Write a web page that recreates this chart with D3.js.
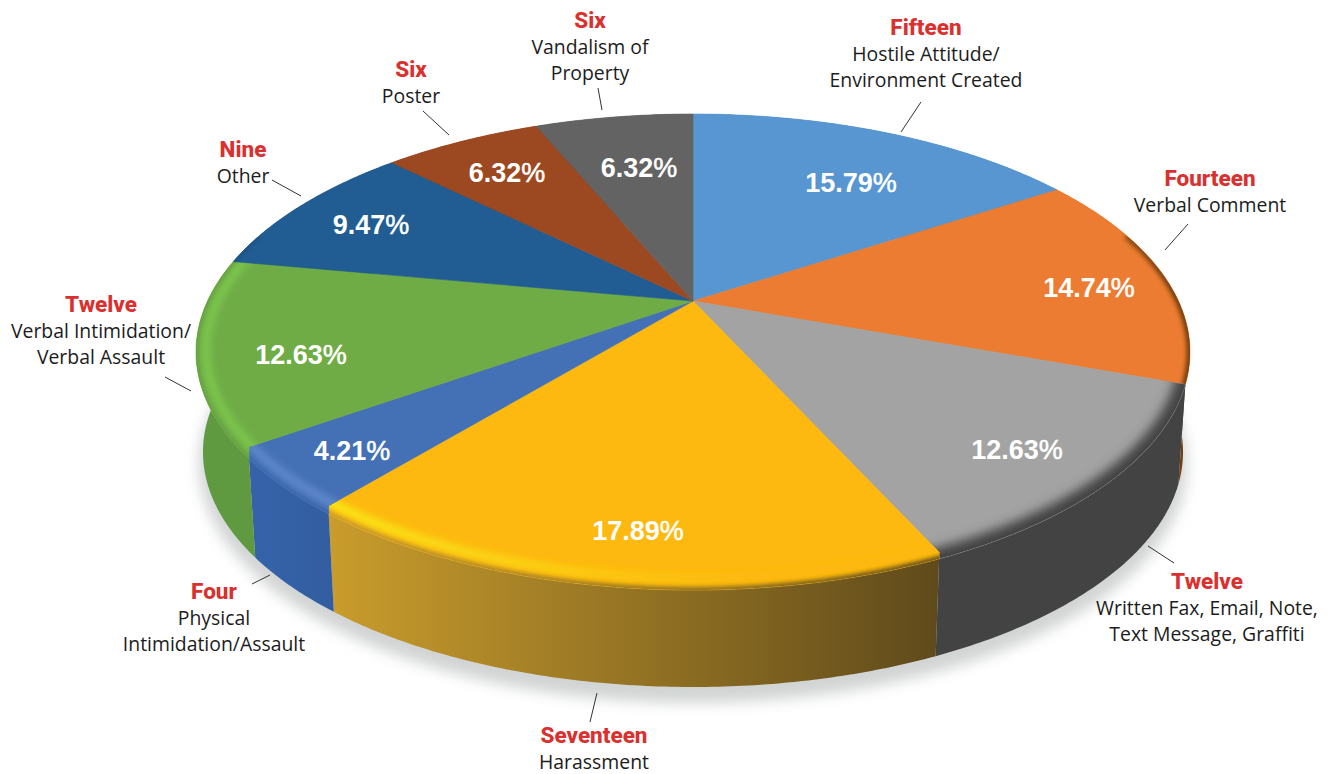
<!doctype html>
<html>

<head>
    <meta charset="utf-8">
    <script src="https://cdnjs.cloudflare.com/ajax/libs/d3/7.8.5/d3.min.js"></script>
    <style>
        html, body { margin: 0; padding: 0; background: #fff; }
        svg { display: block; }
        .pct { font-family: "Liberation Sans", sans-serif; font-weight: 700; font-size: 27px; fill: #fff; text-anchor: middle; }
        .pct tspan { font-weight: 400; stroke: #fff; stroke-width: 0.5; }
        .count { font-family: "Roboto", sans-serif; font-weight: 800; font-size: 22.5px; fill: #d9312f; text-anchor: middle; }
        .cat { font-family: "Open Sans", sans-serif; font-size: 19.4px; fill: #1c1c1c; text-anchor: middle; }
    </style>
    <title>Incident types</title>
</head>

<body>
    <svg width="1329" height="774"></svg>

    <script>
        // clockwise from 12 o'clock
        var percents = [15.79, 14.74, 12.63, 17.89, 4.21, 12.63, 9.47, 6.32, 6.32];
        var countWords = ["Fifteen", "Fourteen", "Twelve", "Seventeen", "Four", "Twelve", "Nine", "Six", "Six"];
        var categories = [
            ["Hostile Attitude/", "Environment Created"],
            ["Verbal Comment"],
            ["Written Fax, Email, Note,", "Text Message, Graffiti"],
            ["Harassment"],
            ["Physical", "Intimidation/Assault"],
            ["Verbal Intimidation/", "Verbal Assault"],
            ["Other"],
            ["Poster"],
            ["Vandalism of", "Property"]
        ];

        var topColors = ["#5796d1", "#ec7c31", "#a3a3a3", "#fdb90f", "#4470b5", "#6fac46", "#215d92", "#9c4821", "#636363"];
        var sideLeft = ["#3f6f9c", "#a85a1c", "#434343", "#c99c2c", "#3563aa", "#5f9a40", "#1b4a75", "#7a3818", "#4a4a4a"];
        var sideRight = ["#3f6f9c", "#6e3c10", "#434343", "#5f4a1b", "#335da0", "#5f9a40", "#1b4a75", "#7a3818", "#4a4a4a"];
        // highlight band just inside the rim, left and right ends (null = none)
        var shineLeft = [null, null, null, "#f9e814", "#5f88ca", "#7cc64e", null, null, null];
        var shineRight = [null, null, null, "#fdb90f", "#5f88ca", "#7cc64e", null, null, null];
        // how wide the dark edge of each top face is
        var edgeWidths = [5, 7, 22, 6, 3, 3, 3, 3, 3];

        // where the texts sit, [x, y]
        var pctSpots = [[851, 192], [1089, 297], [1017, 459], [638, 540], [352, 460], [301, 364], [371, 234], [507, 182], [639, 177]];
        var labelSpots = [[926, 35], [1210, 186], [1207, 589], [594, 743], [214, 599], [101, 312], [243, 157], [411, 77], [590, 28]];
        var leaders = [
            [[901, 132], [921, 102]],
            [[1165, 250], [1188, 224]],
            [[1148, 546], [1174, 563]],
            [[590, 722], [597, 693]],
            [[252, 584], [270, 575]],
            [[165, 377], [191, 391]],
            [[272, 180], [301, 196]],
            [[423, 111], [449, 135]],
            [[598, 88], [602, 110]]
        ];

        var svg = d3.select("svg");
        var defs = svg.append("defs");

        // perspective: the pie centre lands above the middle of the ellipse
        var k = -0.214;
        var topRim = { cx: 693, cy: 352, rx: 497, ry: 238 };
        var lowRim = { cx: 693, cy: 452, rx: 490, ry: 235 };
        var shineRim = { cx: 693, cy: 350, rx: 487, ry: 228 };

        function project(a, rim) {
            var X = Math.sin(a), Y = -Math.cos(a);
            var w = 1 + k * Y;
            return [rim.cx + rim.rx * X * Math.sqrt(1 - k * k) / w,
                    rim.cy + rim.ry * (Y + k) / w];
        }

        function arcPoints(a0, a1, rim) {
            var n = Math.ceil(Math.abs(a1 - a0) / 0.01);
            return d3.range(n + 1).map(function (i) {
                return project(a0 + (a1 - a0) * i / n, rim);
            });
        }

        var line = d3.line();
        var apex = [topRim.cx, topRim.cy + topRim.ry * k];
        var rad = Math.PI / 180;

        // at the front the slice borders stop short of the rim and drop straight down
        var kinkFrom = 120 * rad, kinkTo = 240 * rad, inset = 0.98;

        function innerPoint(a) {
            var p = project(a, topRim);
            return [apex[0] + (p[0] - apex[0]) * inset, apex[1] + (p[1] - apex[1]) * inset];
        }

        function rimAngle(a) {
            if (a < kinkFrom || a > kinkTo) return a;
            var x = innerPoint(a)[0], lo = 102 * rad, hi = 258 * rad;
            d3.range(30).forEach(function () {
                var mid = (lo + hi) / 2;
                if (project(mid, topRim)[0] > x) lo = mid; else hi = mid;
            });
            return (lo + hi) / 2;
        }

        var slices = d3.pie().sort(null).value(function (d) { return d; })(percents);

        function blur(id, sd) {
            defs.append("filter").attr("id", id)
                .attr("filterUnits", "userSpaceOnUse")
                .attr("x", 0).attr("y", 0).attr("width", 1329).attr("height", 774)
                .append("feGaussianBlur").attr("stdDeviation", sd);
        }
        blur("soft", 7);
        blur("bevel", 3.5);
        blur("bevelThin", 2);
        blur("bevelWide", 5.5);

        function gradient(id, x1, x2, c1, c2) {
            var grad = defs.append("linearGradient").attr("id", id)
                .attr("gradientUnits", "userSpaceOnUse")
                .attr("x1", x1).attr("x2", x2).attr("y1", 0).attr("y2", 0);
            grad.append("stop").attr("offset", 0).attr("stop-color", c1);
            grad.append("stop").attr("offset", 1).attr("stop-color", c2);
        }

        // drop shadow under the whole body
        var lowAll = arcPoints(0, 2 * Math.PI, lowRim).map(function (p) { return [p[0], p[1] + 12]; });
        svg.append("path")
            .attr("d", line(lowAll) + "Z")
            .attr("fill", "#d2d4d4")
            .attr("stroke", "#d2d4d4")
            .attr("stroke-width", 8)
            .attr("filter", "url(#soft)");

        // side walls
        slices.forEach(function (s, i) {
            var a0 = rimAngle(s.startAngle), a1 = rimAngle(s.endAngle);
            var upper = arcPoints(a0, a1, topRim);
            var lower = arcPoints(a1, a0, lowRim);
            var xs = upper.concat(lower).map(function (p) { return p[0]; });
            gradient("side" + i, d3.min(xs), d3.max(xs), sideLeft[i], sideRight[i]);

            svg.append("path")
                .attr("d", line(upper.concat(lower)) + "Z")
                .attr("fill", "url(#side" + i + ")");
        });

        // top faces, with a soft bevel along the front rim
        var frontFrom = 75 * rad, frontTo = 285 * rad;

        slices.forEach(function (s, i) {
            var a0 = rimAngle(s.startAngle), a1 = rimAngle(s.endAngle);
            var outline = [apex];
            if (a0 !== s.startAngle) outline.push(innerPoint(s.startAngle));
            outline = outline.concat(arcPoints(a0, a1, topRim));
            if (a1 !== s.endAngle) outline.push(innerPoint(s.endAngle));
            var face = line(outline) + "Z";

            defs.append("clipPath").attr("id", "face" + i)
                .append("path").attr("d", face);

            svg.append("path")
                .attr("d", face)
                .attr("fill", topColors[i])
                .attr("stroke", topColors[i])
                .attr("stroke-width", 0.6);

            var from = Math.max(s.startAngle, frontFrom), to = Math.min(s.endAngle, frontTo);
            if (from >= to) return;

            var band = svg.append("g").attr("clip-path", "url(#face" + i + ")");

            if (shineLeft[i]) {
                var xsShine = arcPoints(from, to, shineRim).map(function (p) { return p[0]; });
                gradient("shine" + i, d3.min(xsShine), d3.min(xsShine) + 420, shineLeft[i], shineRight[i]);
                band.append("path")
                    .attr("d", line(arcPoints(from - 0.05, to + 0.05, shineRim)))
                    .attr("fill", "none")
                    .attr("stroke", "url(#shine" + i + ")")
                    .attr("stroke-width", 9)
                    .attr("filter", "url(#bevel)");
            }

            band.append("path")
                .attr("d", line(arcPoints(from - 0.05, to + 0.05, topRim)))
                .attr("fill", "none")
                .attr("stroke", "url(#side" + i + ")")
                .attr("stroke-width", edgeWidths[i])
                .attr("filter", edgeWidths[i] > 10 ? "url(#bevelWide)" : "url(#bevelThin)");
        });

        // percentages
        svg.selectAll(".pct")
            .data(percents)
            .enter().append("text")
            .attr("class", "pct")
            .attr("x", function (d, i) { return pctSpots[i][0]; })
            .attr("y", function (d, i) { return pctSpots[i][1]; })
            .text(function (d) { return d3.format(".2f")(d); })
            .append("tspan").text("%");

        // leader lines
        svg.selectAll(".leader")
            .data(leaders)
            .enter().append("path")
            .attr("class", "leader")
            .attr("d", function (d) { return line(d); })
            .attr("stroke", "#333")
            .attr("stroke-width", 1)
            .attr("fill", "none");

        // outer labels
        countWords.forEach(function (word, i) {
            var spot = labelSpots[i];
            svg.append("text").attr("class", "count")
                .attr("x", spot[0]).attr("y", spot[1]).text(word);
            categories[i].forEach(function (txt, j) {
                svg.append("text").attr("class", "cat")
                    .attr("x", spot[0]).attr("y", spot[1] + 26 * (j + 1)).text(txt);
            });
        });
    </script>
</body>

</html>
